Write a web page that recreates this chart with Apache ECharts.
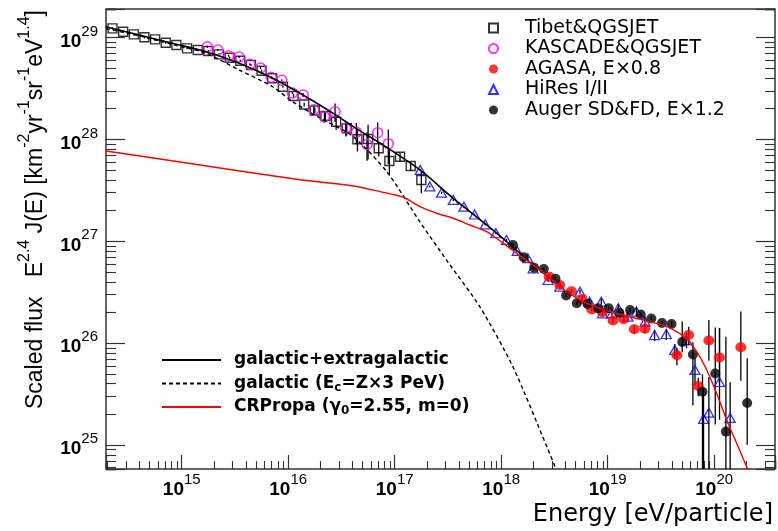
<!DOCTYPE html>
<html>
<head>
<meta charset="utf-8">
<script src="https://cdn.jsdelivr.net/npm/echarts@6/dist/echarts.min.js"></script>
<style>
  html, body { margin: 0; padding: 0; background: #fff; }
  #chart { width: 778px; height: 531px; }
</style>
</head>
<body>
<div id="chart"></div>
<script>
// All values are log10: energy E in eV, scaled flux E^2.4 J(E) in km^-2 yr^-1 sr^-1 eV^1.4

// Axis extents (log10)
const lgEMin = 14.289, lgEMax = 20.571;
const lgFMin = 24.765, lgFMax = 29.280;

// Measurements: [log10 E, log10 flux]
const tibet = [
  [14.35, 29.090], [14.45, 29.057], [14.55, 29.031], [14.65, 29.002], [14.75, 28.982],
  [14.85, 28.949], [14.95, 28.926], [15.05, 28.894], [15.15, 28.877], [15.25, 28.868],
  [15.35, 28.835], [15.45, 28.802], [15.55, 28.772], [15.65, 28.730], [15.75, 28.674],
  [15.85, 28.600], [15.95, 28.517], [16.05, 28.426], [16.15, 28.342], [16.25, 28.284],
  [16.35, 28.230], [16.45, 28.174], [16.55, 28.109], [16.65, 28.001], [16.75, 28.004],
  [16.85, 27.913], [16.95, 27.788], [17.05, 27.830], [17.15, 27.739], [17.25, 27.602]
];
// error bars: [down, up] in decades
const tibetErr = [
  [0.01, 0.01], [0.01, 0.01], [0.01, 0.01], [0.01, 0.01], [0.01, 0.01],
  [0.01, 0.01], [0.01, 0.01], [0.01, 0.01], [0.01, 0.01], [0.01, 0.01],
  [0.01, 0.01], [0.01, 0.01], [0.01, 0.01], [0.01, 0.01], [0.01, 0.01],
  [0.01, 0.01], [0.01, 0.01], [0.02, 0.02], [0.02, 0.02], [0.03, 0.03],
  [0.05, 0.04], [0.08, 0.07], [0.07, 0.06], [0.12, 0.09], [0.20, 0.14],
  [0.08, 0.06], [0.14, 0.11], [0.05, 0.04], [0.05, 0.04], [0.13, 0.10]
];

const kascade = [
  [15.24, 28.910], [15.34, 28.877], [15.44, 28.821], [15.54, 28.809], [15.64, 28.738],
  [15.74, 28.701], [15.84, 28.609], [15.94, 28.580], [16.04, 28.455], [16.14, 28.436],
  [16.24, 28.292], [16.34, 28.223], [16.44, 28.272], [16.54, 28.109], [16.64, 28.071],
  [16.74, 27.950], [16.84, 28.066], [16.94, 27.958]
];
const kascadeErr = [
  [0.01, 0.01], [0.01, 0.01], [0.01, 0.01], [0.01, 0.01], [0.01, 0.01],
  [0.01, 0.01], [0.01, 0.01], [0.01, 0.01], [0.01, 0.01], [0.02, 0.02],
  [0.04, 0.03], [0.06, 0.05], [0.10, 0.08], [0.08, 0.06], [0.12, 0.09],
  [0.16, 0.12], [0.10, 0.10], [0.20, 0.14]
];

const agasa = [
  [18.45, 26.653], [18.55, 26.571], [18.66, 26.510], [18.76, 26.434], [18.85, 26.330],
  [18.95, 26.303], [19.05, 26.223], [19.15, 26.236], [19.25, 26.136], [19.35, 26.141],
  [19.65, 25.881], [19.76, 26.080], [19.85, 25.580], [19.95, 26.027], [20.05, 25.860],
  [20.25, 25.960]
];
const agasaErr = [
  [0.02, 0.02], [0.02, 0.02], [0.02, 0.02], [0.02, 0.02], [0.02, 0.02],
  [0.02, 0.02], [0.03, 0.03], [0.03, 0.03], [0.04, 0.04], [0.04, 0.04],
  [0.10, 0.07], [0.10, 0.08], [0.10, 0.08], [0.20, 0.20], [0.25, 0.29],
  [0.33, 0.35]
];

const hires = [
  [17.24, 27.700], [17.33, 27.538], [17.44, 27.477], [17.55, 27.406], [17.65, 27.340],
  [17.75, 27.263], [17.85, 27.165], [17.95, 27.079], [18.05, 27.013], [18.15, 26.905],
  [18.25, 26.834], [18.30, 26.735], [18.44, 26.620], [18.55, 26.554], [18.74, 26.505],
  [18.83, 26.407], [18.94, 26.407], [18.95, 26.293], [19.04, 26.293], [19.10, 26.342],
  [19.19, 26.260], [19.27, 26.309], [19.35, 26.211], [19.44, 26.080], [19.55, 26.090],
  [19.63, 25.933], [19.74, 26.031], [19.82, 25.737], [19.90, 25.256], [19.95, 25.318],
  [20.05, 25.619], [20.15, 25.266]
];
const hiresErr = [
  [0.01, 0.01], [0.01, 0.01], [0.01, 0.01], [0.01, 0.01], [0.01, 0.01],
  [0.01, 0.01], [0.01, 0.01], [0.01, 0.01], [0.01, 0.01], [0.01, 0.01],
  [0.02, 0.02], [0.02, 0.02], [0.02, 0.02], [0.02, 0.02], [0.02, 0.02],
  [0.03, 0.03], [0.03, 0.03], [0.03, 0.03], [0.03, 0.03], [0.04, 0.04],
  [0.04, 0.04], [0.05, 0.05], [0.05, 0.05], [0.06, 0.05], [0.06, 0.05],
  [0.08, 0.06], [0.08, 0.07], [0.15, 0.12], [2.00, 0.30], [2.00, 0.35],
  [0.37, 0.53], [2.00, 0.35]
];

const auger = [
  [18.11, 26.964], [18.21, 26.844], [18.31, 26.741], [18.40, 26.728], [18.51, 26.633],
  [18.61, 26.469], [18.71, 26.392], [18.81, 26.385], [18.91, 26.342], [19.01, 26.342],
  [19.11, 26.298], [19.21, 26.326], [19.31, 26.282], [19.41, 26.242], [19.51, 26.198],
  [19.60, 26.188], [19.70, 26.012], [19.80, 25.889], [19.89, 25.524], [20.01, 25.703],
  [20.11, 25.132], [20.31, 25.413]
];
const augerErr = [
  [0.015, 0.015], [0.015, 0.015], [0.015, 0.015], [0.015, 0.015], [0.015, 0.015],
  [0.015, 0.015], [0.015, 0.015], [0.015, 0.015], [0.015, 0.015], [0.015, 0.015],
  [0.02, 0.02], [0.02, 0.02], [0.02, 0.02], [0.02, 0.02], [0.02, 0.02],
  [0.03, 0.03], [0.10, 0.20], [0.50, 0.12], [2.00, 0.17], [0.50, 0.45],
  [2.00, 0.93], [0.41, 0.44]
];

// Model curves: [log10 E, log10 flux]
const totalModel = [
  [14.289, 29.106], [14.602, 29.025], [14.915, 28.943], [15.228, 28.861], [15.541, 28.747],
  [15.854, 28.600], [16.167, 28.419], [16.449, 28.239], [16.611, 28.125], [16.925, 27.922],
  [17.238, 27.700], [17.550, 27.422], [17.864, 27.160], [18.177, 26.882], [18.315, 26.751]
];
const galacticModel = [
  [14.289, 29.088], [14.608, 29.015], [14.915, 28.931], [15.228, 28.845], [15.541, 28.681],
  [15.854, 28.517], [16.042, 28.370], [16.299, 28.210], [16.611, 28.027], [16.928, 27.680],
  [17.238, 27.189], [17.500, 26.796], [17.801, 26.355], [18.111, 25.766], [18.430, 24.981],
  [18.514, 24.765]
];
const crpropaModel = [
  [14.289, 27.886], [15.172, 27.749], [16.111, 27.604], [16.611, 27.543], [16.862, 27.487],
  [17.081, 27.432], [17.238, 27.340], [17.394, 27.275], [17.550, 27.226], [17.707, 27.160],
  [17.864, 27.094], [18.020, 26.980], [18.146, 26.882], [18.301, 26.767], [18.458, 26.637],
  [18.615, 26.505], [18.771, 26.407], [18.928, 26.342], [19.085, 26.293], [19.240, 26.250],
  [19.397, 26.211], [19.554, 26.162], [19.648, 26.113], [19.742, 26.041], [19.836, 25.917],
  [19.930, 25.737], [20.023, 25.508], [20.117, 25.246], [20.211, 25.018], [20.305, 24.788],
  [20.336, 24.707]
];

const minorSteps = [2, 3, 4, 5, 6, 7, 8, 9];

const frameColor = '#333';
const tickRich = {
  b: { fontFamily: 'Liberation Sans', fontWeight: 'bold', fontSize: 19, color: '#000', padding: [8, 0, 0, 0] },
  s: { fontFamily: 'Liberation Sans', fontSize: 15, color: '#000', verticalAlign: 'top' }
};
function powerLabel(v) {
  const n = Math.round(v);
  if (Math.abs(v - n) > 1e-6) return '';
  return '{b|10}{s|' + n + '}';
}

function majorAxis(min, max, extra) {
  return Object.assign({
    type: 'value', min: min, max: max, minInterval: 1, maxInterval: 1,
    axisLine: { show: false },
    splitLine: { show: false },
    axisTick: { show: true, inside: true, lineStyle: { color: frameColor, width: 1.2 } },
    axisLabel: { show: true, formatter: powerLabel, rich: tickRich },
    silent: true
  }, extra);
}
function minorAxis(min, max, k, extra) {
  const off = Math.log10(k);
  return Object.assign({
    type: 'value', min: min - off, max: max - off, minInterval: 1, maxInterval: 1,
    axisLine: { show: false },
    splitLine: { show: false },
    axisLabel: { show: false },
    axisTick: { show: true, inside: true, lineStyle: { color: frameColor, width: 1.1 } },
    silent: true
  }, extra);
}

const xAxes = [majorAxis(lgEMin, lgEMax, {
  position: 'bottom', offset: 0,
  axisTick: { show: true, inside: true, length: 14, lineStyle: { color: frameColor, width: 1.2 } },
  axisLabel: { show: true, formatter: powerLabel, rich: tickRich, margin: 3 }
})];
minorSteps.forEach(k => xAxes.push(minorAxis(lgEMin, lgEMax, k, {
  position: 'bottom', offset: 0,
  axisTick: { show: true, inside: true, length: 8, lineStyle: { color: frameColor, width: 1.1 } }
})));

const yAxes = [majorAxis(lgFMin, lgFMax, {
  position: 'left', offset: 0,
  axisTick: { show: true, inside: true, length: 19, lineStyle: { color: frameColor, width: 1.2 } },
  axisLabel: { show: true, formatter: powerLabel, rich: tickRich, margin: 8 }
})];
minorSteps.forEach(k => yAxes.push(minorAxis(lgFMin, lgFMax, k, {
  position: 'left', offset: 0,
  axisTick: { show: true, inside: true, length: 10, lineStyle: { color: frameColor, width: 1.1 } }
})));
yAxes.push(majorAxis(lgFMin, lgFMax, {
  position: 'right', offset: 0,
  axisTick: { show: true, inside: true, length: 19, lineStyle: { color: frameColor, width: 1.2 } },
  axisLabel: { show: false }
}));
minorSteps.forEach(k => yAxes.push(minorAxis(lgFMin, lgFMax, k, {
  position: 'right', offset: 0,
  axisTick: { show: true, inside: true, length: 10, lineStyle: { color: frameColor, width: 1.1 } }
})));

function errorBars(name, pts, errs) {
  return {
    type: 'custom', name: name, silent: true, clip: true, z: 2,
    xAxisIndex: 0, yAxisIndex: 0,
    encode: { x: 0, y: [1, 2] },
    data: pts.map((p, i) => [p[0], p[1] - errs[i][0], p[1] + errs[i][1]]),
    renderItem: function (params, api) {
      const lo = api.coord([api.value(0), api.value(1)]);
      const hi = api.coord([api.value(0), api.value(2)]);
      return {
        type: 'line',
        shape: { x1: lo[0], y1: lo[1], x2: hi[0], y2: hi[1] },
        style: { stroke: '#000', lineWidth: 1.3 }
      };
    }
  };
}

function points(name, pts, symbol, size, style) {
  return {
    type: 'scatter', name: name, data: pts, symbol: symbol, symbolSize: size,
    xAxisIndex: 0, yAxisIndex: 0, silent: true, z: 3, clip: true,
    itemStyle: style
  };
}

function curve(name, pts, style) {
  return {
    type: 'line', name: name, data: pts, symbol: 'none', showSymbol: false,
    smooth: 0.25, xAxisIndex: 0, yAxisIndex: 0, silent: true, z: 4, clip: true,
    itemStyle: { color: style.color },
    lineStyle: style
  };
}

const names = {
  tibet: 'Tibet&QGSJET',
  kascade: 'KASCADE&QGSJET',
  agasa: 'AGASA, E\u00d70.8',
  hires: 'HiRes I/II',
  auger: 'Auger SD&FD, E\u00d71.2',
  total: 'galactic+extragalactic',
  galactic: 'galactic (E_c=Z\u00d73 PeV)',
  crpropa: 'CRPropa (\u03b3_0=2.55, m=0)'
};
const modelLabels = {};
modelLabels[names.total] = '{m|galactic+extragalactic}';
modelLabels[names.galactic] = '{m|galactic (E}{sub|c}{m|=Z\u00d73 PeV)}';
modelLabels[names.crpropa] = '{m|CRPropa (\u03b3}{sub|0}{m|=2.55, m=0)}';

const option = {
  animation: false,
  backgroundColor: '#fff',
  grid: {
    left: 106, top: 9, right: 3, bottom: 62,
    show: true, borderColor: frameColor, borderWidth: 1.5, backgroundColor: 'transparent',
    outerBoundsMode: 'none'
  },
  xAxis: xAxes,
  yAxis: yAxes,
  legend: [
    {
      orient: 'vertical', left: 488, top: 18, padding: 0,
      itemWidth: 9, itemHeight: 9, itemGap: 0.5,
      selectedMode: false,
      textStyle: { fontFamily: 'DejaVu Sans', fontSize: 19, color: '#000', lineHeight: 20, padding: [0, 0, 0, 22] },
      data: [names.tibet, names.kascade, names.agasa, names.hires, names.auger]
    },
    {
      orient: 'vertical', left: 161, top: 350, padding: 0,
      itemWidth: 59, itemHeight: 12, itemGap: 3.5,
      selectedMode: false,
      itemStyle: { opacity: 0 },
      formatter: function (n) { return modelLabels[n]; },
      textStyle: {
        color: '#000', lineHeight: 20, padding: [0, 0, 0, 8],
        rich: {
          m: { fontFamily: 'DejaVu Sans', fontWeight: 'bold', fontSize: 17, color: '#000' },
          sub: { fontFamily: 'DejaVu Sans', fontWeight: 'bold', fontSize: 12, color: '#000', verticalAlign: 'bottom' }
        }
      },
      data: [names.total, names.galactic, names.crpropa]
    }
  ],
  graphic: [
    {
      type: 'text', x: 773, y: 515, silent: true,
      style: {
        text: 'Energy [eV/particle]', align: 'right', verticalAlign: 'middle',
        fontFamily: 'DejaVu Sans', fontSize: 24, fill: '#000'
      }
    },
    {
      type: 'text', x: 32, y: 10, rotation: Math.PI / 2, silent: true,
      style: {
        text: '{m|Scaled flux   E}{sup|2.4}{m| J(E) [km}{sup|-2}{m|yr}{sup|-1}{m|sr}{sup|-1}{m|eV}{sup|1.4}{m|]}',
        align: 'right', verticalAlign: 'middle', fill: '#000',
        rich: {
          m: { fontFamily: 'Liberation Sans', fontSize: 23, fill: '#000', padding: [7, 0, 0, 0] },
          sup: { fontFamily: 'Liberation Sans', fontSize: 16, fill: '#000', verticalAlign: 'top' }
        }
      }
    }
  ],
  series: [
    errorBars('Tibet errors', tibet, tibetErr),
    errorBars('KASCADE errors', kascade, kascadeErr),
    errorBars('AGASA errors', agasa, agasaErr),
    errorBars('HiRes errors', hires, hiresErr),
    errorBars('Auger errors', auger, augerErr),
    points(names.tibet, tibet, 'rect', 9, { color: 'rgba(0,0,0,0)', borderColor: '#000', borderWidth: 1.4 }),
    points(names.kascade, kascade, 'circle', 10, { color: 'rgba(0,0,0,0)', borderColor: '#ff00ff', borderWidth: 1.5 }),
    points(names.hires, hires, 'triangle', [10, 9], { color: 'rgba(0,0,0,0)', borderColor: '#0000ff', borderWidth: 1.3 }),
    points(names.agasa, agasa, 'circle', [11, 10], { color: '#ff0000' }),
    points(names.auger, auger, 'circle', 10, { color: '#000' }),
    curve(names.galactic, galacticModel, { color: '#000', width: 1.4, type: [4, 3] }),
    curve(names.total, totalModel, { color: '#000', width: 1.6, type: 'solid' }),
    curve(names.crpropa, crpropaModel, { color: '#ff0000', width: 1.4, type: 'solid' })
  ]
};

const chart = echarts.init(document.getElementById('chart'), null, { renderer: 'canvas' });
chart.setOption(option);
</script>
</body>
</html>
